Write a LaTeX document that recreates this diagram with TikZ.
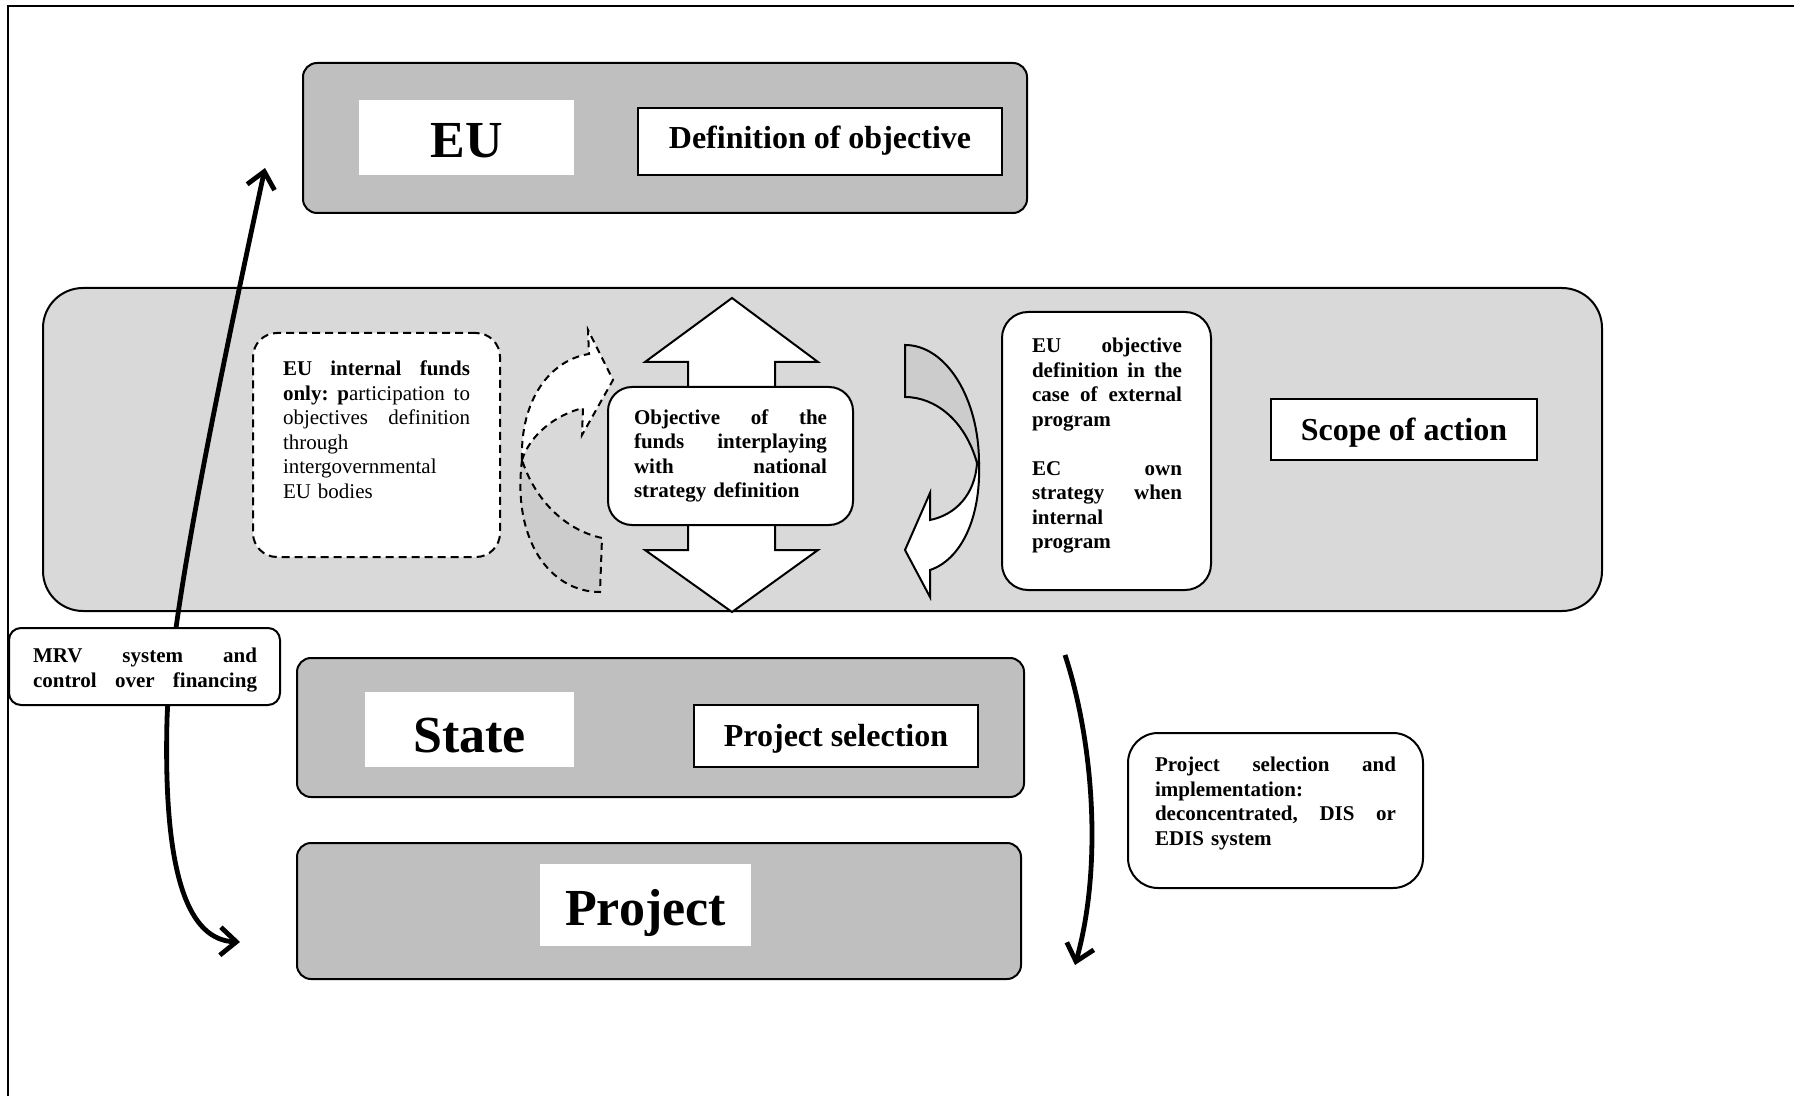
\documentclass[tikz,border=0pt]{standalone}
\usepackage{fontspec}
\setmainfont{Liberation Serif}
\usetikzlibrary{arrows.meta}
\definecolor{boxgray}{RGB}{191,191,191}
\definecolor{midgray}{RGB}{217,217,217}
\definecolor{arrgray}{RGB}{204,204,204}
\newcommand\jl[1]{\leavevmode\hbox to \hsize{#1}}
\begin{document}
\begin{tikzpicture}[x=0.5pt,y=-0.5pt,
  every node/.style={inner sep=0pt, outer sep=0pt},
  bigbox/.style={draw=black, line width=1pt, fill=boxgray, rounded corners=7pt},
  whitelbl/.style={fill=white, font=\fontsize{26pt}{30pt}\selectfont\bfseries, text height=20pt, text depth=0pt},
  framedlbl/.style={draw=black, line width=1pt, fill=white, font=\fontsize{16pt}{19pt}\selectfont\bfseries, text height=10.6pt, text depth=0pt},
  regtxt/.style={font=\fontsize{10.5pt}{12.25pt}\selectfont, align=left},
  boldtxt/.style={font=\fontsize{10.5pt}{12.25pt}\selectfont\bfseries, align=left},
  roundbox/.style={draw=black, line width=1pt, fill=white},
  dashline/.style={line width=1pt, dash pattern=on 3.5pt off 2.5pt},
  thickarrow/.style={line width=2.4pt},
  barb/.tip={Straight Barb[length=8pt,width=14pt]}
]
\useasboundingbox (0,0) rectangle (1794,1096);
\fill[white] (0,0) rectangle (1794,1096);
% frame
\draw[line width=1pt] (1794,6) -- (8,6) -- (8,1096);

% middle band
\node[draw=black, line width=1pt, fill=midgray, rounded corners=20pt,
  minimum width=779.5pt, minimum height=161.5pt] (mid) at (822.5,449.5) {};

% EU box
\node[bigbox, minimum width=362pt, minimum height=75pt] (eu) at (665,138) {};
\node[whitelbl, minimum width=107.5pt, minimum height=37.5pt] (euw) at (466.5,137.5) {EU};
\node[framedlbl, text height=7.2pt, minimum width=182pt, minimum height=33.5pt] (def) at (820,141.5) {Definition of objective};

% dashed box
\node[draw=black, dashline, dash pattern=on 4pt off 2.5pt, fill=white, rounded corners=12pt,
  minimum width=123.5pt, minimum height=112pt] (dbox) at (376.5,445) {};
\node[regtxt, text width=93.5pt, anchor=north west] (dtext) at (283,361)
  {\jl{\textbf{EU}\hfil\textbf{internal}\hfil\textbf{funds}}\\ \jl{\textbf{only:}\hfil\textbf{p}articipation\hfil to}\\ \jl{objectives\hfil definition}\\ through\\ intergovernmental\\ EU bodies};

% dashed curved arrow
\filldraw[dashline, fill=arrgray] (522,460) .. controls (512,540) and (550,592) .. (600,592)
  -- (602,538) .. controls (565,530) and (535,500) .. (522,460) -- cycle;
\filldraw[dashline, fill=white] (522,460) .. controls (520,400) and (550,360) .. (589,354)
  -- (588,330) -- (613,380) -- (582,435) -- (583,408)
  .. controls (555,415) and (530,435) .. (522,460) -- cycle;

% double arrow
\draw[line width=1pt, fill=white] (732,298) -- (818,362) -- (775,362) -- (775,550) -- (818,550)
  -- (732,612) -- (645,550) -- (688,550) -- (688,362) -- (645,362) -- cycle;
\node[roundbox, rounded corners=12pt, minimum width=122.5pt, minimum height=69pt,
  boldtxt, text width=96.5pt] (obj) at (730.5,456)
  {\jl{Objective\hfil of\hfil the}\\ \jl{funds\hfil interplaying}\\ \jl{with\hfil national}\\ strategy definition};

% solid curved arrow
\filldraw[line width=1pt, fill=arrgray] (905,345) .. controls (946,345) and (979,398) .. (979,463)
  -- (977,463) .. controls (965,420) and (935,397) .. (905,397) -- cycle;
\filldraw[line width=1pt, fill=white] (977,463) .. controls (975,495) and (955,515) .. (930,520)
  -- (930,493) -- (905,550) -- (930,597) -- (930,570)
  .. controls (960,560) and (981,520) .. (979,463) -- cycle;

% EU objective box
\node[roundbox, rounded corners=13pt, minimum width=104.5pt, minimum height=139pt] (euobj) at (1106.5,451) {};
\node[boldtxt, text width=75pt, anchor=north west] (euobjt) at (1032,338)
  {\jl{EU\hfil objective}\\ \jl{definition\hfil in\hfil the}\\ \jl{case\hfil of\hfil external}\\ program\\[12.25pt]
   \jl{EC\hfil own}\\ \jl{strategy\hfil when}\\ internal\\ program};

% scope
\node[framedlbl, minimum width=133pt, minimum height=30.5pt] (scope) at (1404,429.5) {Scope of action};

% left long arrow
\coordinate (la1) at (265,168);
\coordinate (lam) at (167,720);
\coordinate (la2) at (240,942);
\draw[thickarrow, barb-barb] (la1) .. controls (215,400) and (170,620) .. (lam)
  .. controls (163,880) and (190,940) .. (la2);

% MRV box
\node[roundbox, rounded corners=6pt, minimum width=135.5pt, minimum height=38.5pt] (mrv) at (144.5,666.5) {};
\node[boldtxt, text width=112pt, anchor=north west] (mrvt) at (33,648)
  {\jl{MRV\hfil system\hfil and}\\ \jl{control\hfil over\hfil financing}};

% State box
\node[bigbox, minimum width=363.5pt, minimum height=69.5pt] (state) at (660.5,727.5) {};
\node[whitelbl, text height=23.4pt, minimum width=104.5pt, minimum height=37.5pt] (statew) at (469.5,729.5) {State};
\node[framedlbl, minimum width=142pt, minimum height=31pt] (psel) at (836,736) {Project selection};

% Project box
\node[bigbox, minimum width=362pt, minimum height=68pt] (proj) at (659,911) {};
\node[whitelbl, minimum width=105.5pt, minimum height=41pt] (projw) at (645.5,905) {Project};

% right arrow
\coordinate (ra1) at (1065,655);
\coordinate (ra2) at (1075,965);
\draw[thickarrow, -barb] (ra1) .. controls (1093,740) and (1103,865) .. (ra2);

% project selection and implementation box
\node[roundbox, rounded corners=15pt, minimum width=147.5pt, minimum height=77.5pt] (psi) at (1275.5,810.5) {};
\node[boldtxt, text width=120.5pt, anchor=north west] (psit) at (1155,757)
  {\jl{Project\hfil selection\hfil and}\\ implementation:\\ \jl{deconcentrated,\hfil DIS\hfil or}\\ EDIS system};
\end{tikzpicture}
\end{document}
